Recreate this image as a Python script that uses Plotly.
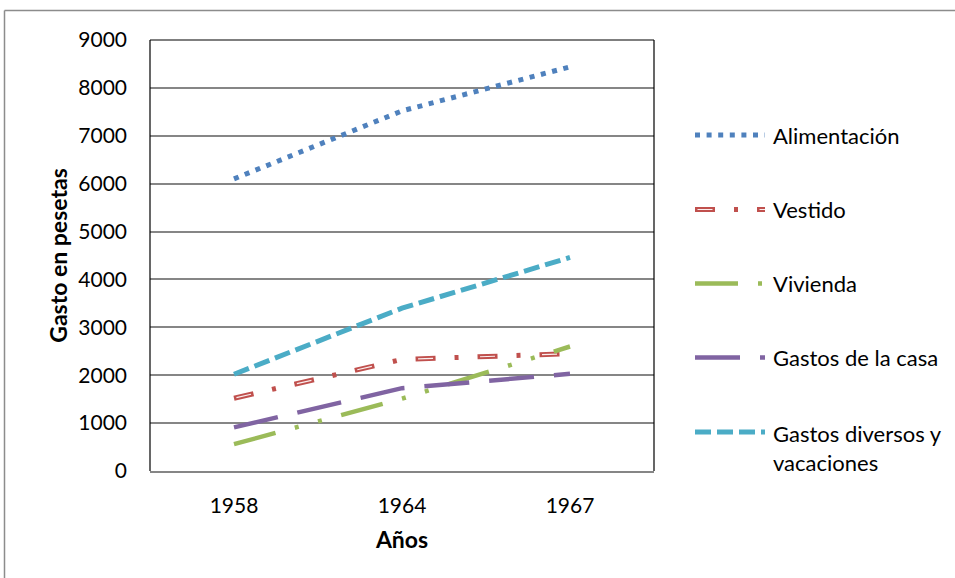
import plotly.graph_objects as go

# Gasto anual por partida (pesetas)
years = ["1958", "1964", "1967"]
alimentacion = [6100, 7520, 8440]
vestido = [1520, 2330, 2450]
vivienda = [560, 1510, 2600]
gastos_casa = [910, 1730, 2030]
gastos_diversos = [2020, 3400, 4460]

y_ticks = [0, 1000, 2000, 3000, 4000, 5000, 6000, 7000, 8000, 9000]

W, H = 955, 578
L, R, T, B = 150, 654, 40, 471  # plot area edges in pixels

FONT = "Lato"
GRID = "#868686"


def px_x(px):
    return (px - L) / (R - L)


def px_y(py):
    return (B - py) / (B - T)


series = [
    dict(name="Alimentación", y=alimentacion, color="#4F81BD", width=5, dash="5px,6.6px"),
    dict(name="Vestido", y=vestido, color="#C0504D", width=5, dash="20px,19px,4px,19px",
         hollow="0px,2.5px,15px,44.5px"),
    dict(name="Vivienda", y=vivienda, color="#9BBB59", width=4.5,
         dash="43px,20px,4px,20px,4px,20px"),
    dict(name="Gastos de la casa", y=gastos_casa, color="#8064A2", width=4.5, dash="45px,20px"),
    dict(name="Gastos diversos y<br>vacaciones", y=gastos_diversos, color="#4BACC6", width=5,
         dash="16px,6px"),
]

fig = go.Figure()
for s in series:
    fig.add_trace(go.Scatter(
        x=years, y=s["y"], mode="lines", name=s["name"], showlegend=False,
        line=dict(color=s["color"], width=s["width"], dash=s["dash"]),
        hoverinfo="skip",
    ))
    if "hollow" in s:
        # white core inside each dash gives the double-stroke look
        fig.add_trace(go.Scatter(
            x=years, y=s["y"], mode="lines", showlegend=False,
            line=dict(color="#fbeeee", width=1.2, dash=s["hollow"]),
            hoverinfo="skip",
        ))

shapes = []
# plot-area frame: black on left, top and right
for x0, y0, x1, y1 in [(0, 0, 0, 1), (0, 1, 1, 1), (1, 0, 1, 1)]:
    shapes.append(dict(type="line", xref="paper", yref="paper", x0=x0, y0=y0, x1=x1, y1=y1,
                       line=dict(color="black", width=1.2), layer="above"))
# outer chart border
shapes.append(dict(type="line", xref="paper", yref="paper",
                   x0=px_x(4.5), y0=px_y(10.5), x1=px_x(4.5), y1=px_y(600),
                   line=dict(color="#8c8c8c", width=1.5)))
shapes.append(dict(type="line", xref="paper", yref="paper",
                   x0=px_x(4.5), y0=px_y(10.5), x1=px_x(980), y1=px_y(10.5),
                   line=dict(color="#8c8c8c", width=1.5)))

# legend: line samples and labels
legend_y = [135, 209.5, 283.5, 357.5, 432]
annotations = []
for s, ly in zip(series, legend_y):
    shapes.append(dict(type="line", xref="paper", yref="paper",
                       x0=px_x(695), x1=px_x(765), y0=px_y(ly), y1=px_y(ly),
                       line=dict(color=s["color"], width=s["width"], dash=s["dash"])))
    if "hollow" in s:
        shapes.append(dict(type="line", xref="paper", yref="paper",
                           x0=px_x(695), x1=px_x(765), y0=px_y(ly), y1=px_y(ly),
                           line=dict(color="#fbeeee", width=1.2, dash=s["hollow"])))
    two_lines = "<br>" in s["name"]
    annotations.append(dict(
        xref="paper", yref="paper", x=px_x(771), y=px_y(ly - 14 if two_lines else ly),
        text=s["name"], showarrow=False, xanchor="left",
        yanchor="top" if two_lines else "middle", align="left",
        font=dict(family=FONT, size=22, color="black"),
    ))

fig.update_layout(
    width=W, height=H,
    margin=dict(l=L, r=W - R, t=T, b=H - B, pad=0),
    paper_bgcolor="white", plot_bgcolor="white",
    shapes=shapes, annotations=annotations,
    font=dict(family=FONT, size=21, color="black"),
    xaxis=dict(
        type="category", range=[-0.5, 2.5], showgrid=False,
        showline=True, linecolor=GRID, linewidth=2,
        ticks="", ticklabelstandoff=15,
        tickfont=dict(family=FONT, size=21, color="black"),
        title=dict(text="<b>Años</b>", standoff=16,
                   font=dict(family=FONT, size=23, color="black")),
        fixedrange=True, zeroline=False,
    ),
    yaxis=dict(
        range=[0, 9000], tickvals=y_ticks, ticktext=[str(v) for v in y_ticks],
        showgrid=True, gridcolor=GRID, gridwidth=1.5,
        showline=False, zeroline=False,
        ticks="", ticklabelstandoff=22,
        tickfont=dict(family=FONT, size=21, color="black"),
        title=dict(text="<b>Gasto en pesetas</b>", standoff=4,
                   font=dict(family=FONT, size=23, color="black")),
        fixedrange=True,
    ),
)

fig.write_html("out.html")
